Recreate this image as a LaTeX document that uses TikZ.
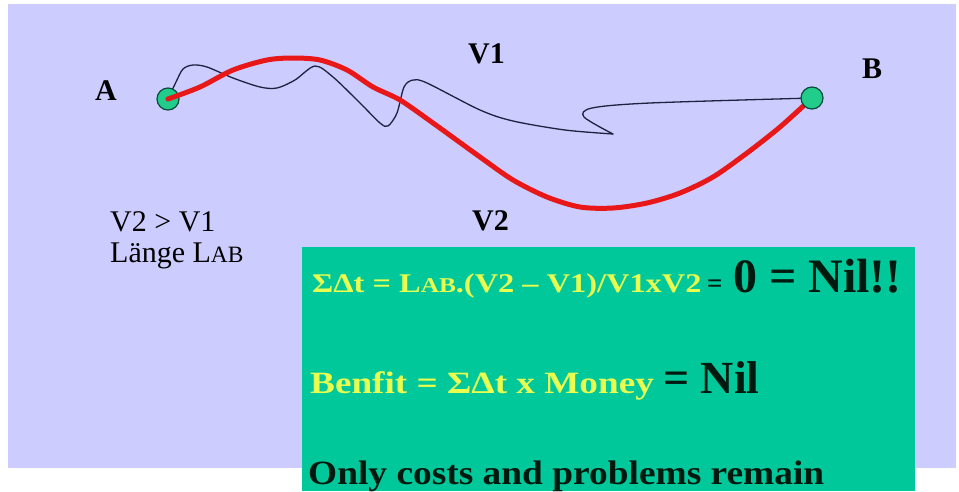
\documentclass[tikz,border=0pt]{standalone}
\usepackage{fontspec}
\setmainfont{Liberation Serif}
\usepackage{graphicx}
\definecolor{lav}{HTML}{CCCCFF}
\definecolor{boxgreen}{HTML}{00C89A}
\definecolor{ylw}{HTML}{E8FF50}
\definecolor{redc}{HTML}{E81818}
\definecolor{dotg}{HTML}{22CC8A}
\definecolor{dotline}{HTML}{0A4A3A}
\definecolor{wig}{HTML}{202040}
\definecolor{dark}{HTML}{001A10}
\newcommand\fs[1]{\fontsize{#1}{#1}\selectfont}
\newcommand\smc[1]{\scalebox{0.78}{#1}}
\begin{document}
\begin{tikzpicture}[x=1pt,y=-1pt,
  lbl/.style={anchor=base west, inner sep=0pt, font={\fs{30}\bfseries}},
  txt/.style={anchor=base west, inner sep=0pt, font={\fs{30}}},
  boxtxt/.style={anchor=base west, inner sep=0pt, text=dark},
  dot/.style={circle, minimum size=22pt, inner sep=0pt, fill=dotg, draw=dotline, line width=1.2pt},
  redcurve/.style={draw=redc, line width=5pt, line cap=round},
  wiggle/.style={draw=wig, line width=1.3pt, line cap=round}]
\useasboundingbox (0,0) rectangle (959,491);
\fill[white] (0,0) rectangle (959,491);
\fill[lav] (8,4) rectangle (956,468);
\fill[boxgreen] (302,247) rectangle (915,491);

% points
\coordinate (Apos) at (168,99);
\coordinate (Bpos) at (812,98);
\coordinate (cusp) at (613,134);

% wiggly path V1
\draw[wiggle] plot[smooth] coordinates {(Apos) (176,82) (183,69) (193,65) (207,67) (233,78) (260,87) (277,88) (295,80) (315,66) (333,77) (360,103) (380,123) (388,126) (397,113) (404,87) (413,80) (427,83) (480,110) (513,121) (565,130) (cusp)};
\draw[wiggle] plot[smooth] coordinates {(cusp) (584,117) (592,108) (650,103) (Bpos)};

\node[dot] (A) at (Apos) {};

% red path V2
\draw[redcurve] plot[smooth] coordinates {(A.center) (200,87) (233,70) (267,60) (293,58) (320,60) (347,70) (373,87) (400,100) (433,123) (480,157) (513,180) (547,197) (580,207) (613,208) (647,203) (680,193) (713,177) (747,153) (780,127) (Bpos)};

\node[dot] (B) at (Bpos) {};

% labels
\node[lbl] (la) at (95,100) {A};
\node[lbl] (lb) at (862,78) {B};
\node[lbl] (lv1) at (468,63) {V1};
\node[lbl] (lv2) at (472,230) {V2};
\node[txt] (cond) at (110,231) {V2 > V1};
\node[txt] (len) at (110,262) {Länge L\smc{AB}};

% box text
\node[boxtxt, text=ylw] (f1) at (312,292) {\scalebox{1.2}[1]{\fs{27}\bfseries ΣΔt = L\smc{AB}.(V2 – V1)/V1xV2}};
\node[boxtxt] (f1eq) at (707,292) {\fs{27}\bfseries =};
\node[boxtxt] (f1res) at (733,292) {\fs{48}\bfseries 0 = Nil!!};
\node[boxtxt, text=ylw] (f2) at (310,393) {\scalebox{1.2}[1]{\fs{31}\bfseries Benfit = ΣΔt x Money}};
\node[boxtxt] (f2res) at (663,393) {\fs{46}\bfseries = Nil};
\node[boxtxt] (f3) at (308,484) {\scalebox{1.1}[1]{\fs{34}\bfseries Only costs and problems remain}};
\end{tikzpicture}
\end{document}
